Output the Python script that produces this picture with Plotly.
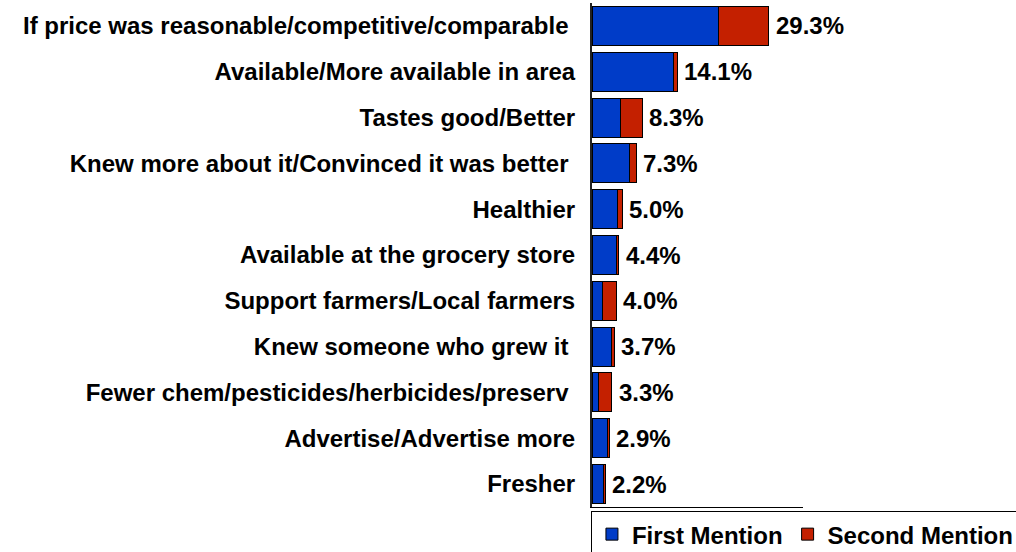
import plotly.graph_objects as go

categories = [
    "If price was reasonable/competitive/comparable\u00a0",
    "Available/More available in area",
    "Tastes good/Better",
    "Knew more about it/Convinced it was better\u00a0",
    "Healthier",
    "Available at the grocery store",
    "Support farmers/Local farmers",
    "Knew someone who grew it\u00a0",
    "Fewer chem/pesticides/herbicides/preserv\u00a0",
    "Advertise/Advertise more",
    "Fresher",
]
first_mention = [20.9, 13.5, 4.7, 6.3, 4.3, 4.1, 1.7, 3.3, 1.0, 2.6, 1.9]
second_mention = [8.4, 0.6, 3.6, 1.0, 0.7, 0.3, 2.3, 0.4, 2.3, 0.3, 0.3]
total_labels = ["29.3%", "14.1%", "8.3%", "7.3%", "5.0%", "4.4%", "4.0%", "3.7%", "3.3%", "2.9%", "2.2%"]

FONT = "Arial, Liberation Sans, sans-serif"
BLUE = "#003CC8"
RED = "#C42000"
FS = 24

fig = go.Figure()
fig.add_trace(go.Bar(
    y=categories, x=first_mention, orientation="h", name="First Mention",
    marker=dict(color=BLUE, line=dict(color="black", width=1)),
))
fig.add_trace(go.Bar(
    y=categories, x=second_mention, orientation="h", name="Second Mention",
    marker=dict(color=RED, line=dict(color="black", width=1)),
))

for cat, a, b, lab in zip(categories, first_mention, second_mention, total_labels):
    fig.add_annotation(
        x=a + b, y=cat, text=f"<b>{lab}</b>", showarrow=False,
        xanchor="left", yanchor="middle", xshift=5,
        font=dict(family=FONT, size=FS, color="black"),
    )

fig.update_layout(
    width=1016, height=552,
    margin=dict(l=592, r=213, t=3, b=45, autoexpand=False),
    barmode="stack", bargap=0.15,
    plot_bgcolor="white", paper_bgcolor="white",
    font=dict(family=FONT, size=FS, color="black"),
    showlegend=True,
    legend=dict(
        orientation="h", x=-0.005, xanchor="left", y=-0.008, yanchor="top",
        bordercolor="black", borderwidth=1,
        font=dict(family=FONT, size=FS, color="black", weight="bold"),
        traceorder="normal",
    ),
    xaxis=dict(
        range=[0, 35], showgrid=False, zeroline=False, showticklabels=False,
        ticks="", showline=True, linecolor="black", linewidth=1, automargin=False,
    ),
    yaxis=dict(
        autorange="reversed", showgrid=False, zeroline=False, automargin=False,
        showline=True, linecolor="#222222", linewidth=2, ticks="",
        ticklabelstandoff=10,
        tickfont=dict(family=FONT, size=FS, color="black", weight="bold"),
    ),
)

fig.write_html(
    "out.html",
    config={"displayModeBar": False},
    post_script="document.body.style.margin='0';document.body.style.overflow='hidden';",
)
